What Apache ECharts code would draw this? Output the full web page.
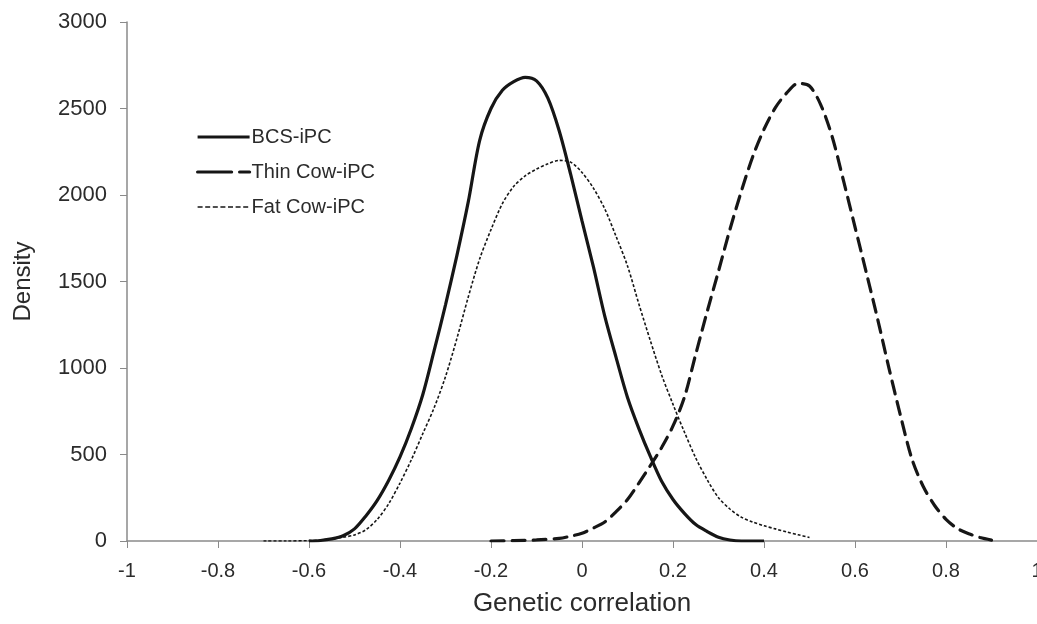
<!DOCTYPE html>
<html>
<head>
<meta charset="utf-8">
<script src="https://cdn.jsdelivr.net/npm/echarts@6/dist/echarts.min.js"></script>
<style>
html,body{margin:0;padding:0;background:#fff;overflow:hidden;}
#chart{width:1037px;height:624px;}
</style>
</head>
<body>
<div id="chart"></div>
<script>
// ---- Data ----
const seriesNames = ["BCS-iPC", "Thin Cow-iPC", "Fat Cow-iPC"];

const bcsX = [-0.6,-0.575,-0.55,-0.525,-0.5,-0.475,-0.45,-0.425,-0.4,-0.375,-0.35,-0.325,-0.3,-0.275,-0.25,-0.225,-0.2,-0.175,-0.15,-0.125,-0.1,-0.075,-0.05,-0.025,0,0.025,0.05,0.075,0.1,0.125,0.15,0.175,0.2,0.225,0.25,0.275,0.3,0.325,0.35,0.375,0.4];
const bcsY = [0,3,12,30,70,145,235,350,486,650,845,1100,1365,1650,1960,2315,2500,2605,2655,2680,2660,2560,2370,2120,1850,1586,1300,1060,830,650,490,345,240,160,95,55,22,6,0,0,0];

const thinX = [-0.2,-0.15,-0.1,-0.05,-0.025,0,0.025,0.05,0.075,0.1,0.125,0.15,0.175,0.2,0.225,0.25,0.275,0.3,0.325,0.35,0.375,0.4,0.425,0.45,0.475,0.5,0.525,0.55,0.575,0.6,0.625,0.65,0.675,0.7,0.725,0.75,0.775,0.8,0.825,0.85,0.875,0.9];
const thinY = [0,2,6,15,28,45,75,110,170,240,335,435,540,665,830,1080,1325,1560,1800,2020,2220,2380,2505,2590,2645,2630,2520,2335,2080,1815,1550,1280,995,725,475,315,205,125,72,42,20,5];

const fatX = [-0.7,-0.65,-0.6,-0.575,-0.55,-0.525,-0.5,-0.475,-0.45,-0.425,-0.4,-0.375,-0.35,-0.325,-0.3,-0.275,-0.25,-0.225,-0.2,-0.175,-0.15,-0.125,-0.1,-0.075,-0.05,-0.025,0,0.025,0.05,0.075,0.1,0.125,0.15,0.175,0.2,0.225,0.25,0.275,0.3,0.325,0.35,0.375,0.4,0.425,0.45,0.475,0.5];
const fatY = [0,0,2,5,12,22,35,65,125,215,335,470,620,770,950,1170,1410,1630,1800,1950,2050,2110,2150,2180,2200,2190,2130,2040,1920,1760,1590,1370,1160,960,790,630,480,355,250,185,138,110,88,70,52,36,20];

const xTicks = {min: -1, max: 1, interval: 0.2};
const yTicks = {min: 0, max: 3000, interval: 500};

function pairs(xs, ys){ return xs.map((x,i)=>[x, ys[i]]); }

const font = "'Liberation Sans', Arial, sans-serif";
const ink = '#161616';
const txt = '#2b2b2b';

const chart = echarts.init(document.getElementById('chart'), null, {renderer:'canvas', width: 1037, height: 624});
chart.setOption({
  animation: false,
  backgroundColor: '#fff',
  grid: {left: 127, top: 22, width: 910, height: 519, containLabel: false, outerBoundsMode: 'none'},
  legend: {
    orient: 'vertical', left: 191, top: 122, itemWidth: 52, itemHeight: 14, itemGap: 15,
    itemStyle: {opacity: 0},
    textStyle: {fontFamily: font, fontSize: 20, color: txt, padding: [0, 0, 0, -3]},
    data: [
      {name: seriesNames[0], lineStyle: {width: 3.2, type: 'solid', color: ink}},
      {name: seriesNames[1], lineStyle: {width: 3.2, type: [34, 8], color: ink}},
      {name: seriesNames[2], lineStyle: {width: 1.6, type: [5, 2.6], color: ink}}
    ]
  },
  xAxis: {
    type: 'value', min: xTicks.min, max: xTicks.max, interval: xTicks.interval,
    name: 'Genetic correlation', nameLocation: 'middle', nameGap: 50,
    nameTextStyle: {fontFamily: font, fontSize: 26, color: txt},
    axisLine: {show: true, onZero: false, lineStyle: {color: '#8a8a8a', width: 1.5}},
    axisTick: {show: true, length: 7, lineStyle: {color: '#8a8a8a'}},
    axisLabel: {fontFamily: font, fontSize: 20, color: txt, margin: 20,
      formatter: v => String(Math.round(v*10)/10)},
    splitLine: {show: false}
  },
  yAxis: {
    type: 'value', min: yTicks.min, max: yTicks.max, interval: yTicks.interval,
    name: 'Density', nameLocation: 'middle', nameGap: 92,
    nameTextStyle: {fontFamily: font, fontSize: 24, color: txt},
    axisLine: {show: true, onZero: false, lineStyle: {color: '#8a8a8a', width: 1.5}},
    axisTick: {show: true, length: 7, lineStyle: {color: '#8a8a8a'}},
    axisLabel: {fontFamily: font, fontSize: 22, color: txt, margin: 20,
      formatter: v => String(v)},
    splitLine: {show: false}
  },
  series: [
    {name: seriesNames[0], type: 'line', data: pairs(bcsX, bcsY), smooth: 0.3, symbol: 'none',
     lineStyle: {color: ink, width: 3.2, type: 'solid'}, itemStyle:{color: ink}},
    {name: seriesNames[1], type: 'line', data: pairs(thinX, thinY), smooth: 0.3, symbol: 'none',
     lineStyle: {color: ink, width: 3.2, type: [13, 8], cap: 'round'}, itemStyle:{color: ink}},
    {name: seriesNames[2], type: 'line', data: pairs(fatX, fatY), smooth: 0.3, symbol: 'none',
     lineStyle: {color: ink, width: 1.6, type: [3, 2]}, itemStyle:{color: ink}}
  ]
});
</script>
</body>
</html>
